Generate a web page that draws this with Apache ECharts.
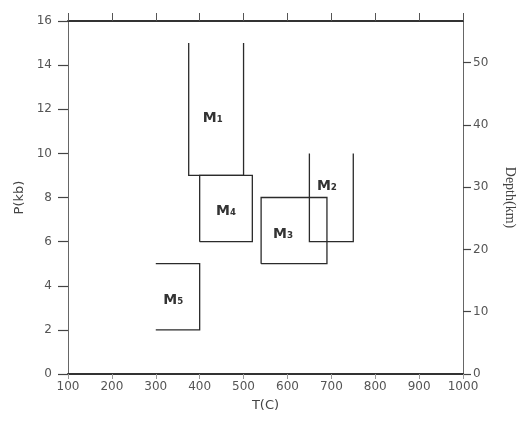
<!DOCTYPE html>
<html>
<head>
<meta charset="utf-8">
<script src="https://cdn.jsdelivr.net/npm/echarts@6/dist/echarts.min.js"></script>
<style>
html,body{margin:0;padding:0;background:#fff;}
#chart{width:519px;height:422px;}
</style>
</head>
<body>
<div id="chart"></div>
<script>
// ---- data (T in °C, P in kb) ----
const boxNames = ['M', 'M', 'M', 'M', 'M'];
const boxSubs  = ['1', '2', '3', '4', '5'];
const tMin = [375, 650, 540, 400, 300];
const tMax = [500, 750, 690, 520, 400];
const pMin = [9, 6, 5, 6, 2];
const pMax = [15, 10, 8, 9, 5];
const openSide = ['top', 'top', 'none', 'none', 'left'];
const labelT = [430, 690, 590, 460, 340];
const labelP = [11.6, 8.5, 6.35, 7.35, 3.35];
const tTicks = [100, 200, 300, 400, 500, 600, 700, 800, 900, 1000];
const pTicks = [0, 2, 4, 6, 8, 10, 12, 14, 16];
const depthTicks = [0, 10, 20, 30, 40, 50];
const depthMax = 56.7; // depth (km) at 16 kb

const subMap = {'1':'\u2081','2':'\u2082','3':'\u2083','4':'\u2084','5':'\u2085'};

const chart = echarts.init(document.getElementById('chart'), null, {renderer: 'canvas'});

const boxData = tMin.map((t, i) => [tMin[i], pMin[i], tMax[i], pMax[i], i, labelT[i], labelP[i]]);

function renderItem(params, api) {
  const i = api.value(4);
  const x0 = api.value(0), y0 = api.value(1), x1 = api.value(2), y1 = api.value(3);
  let pts;
  if (openSide[i] === 'top') {
    pts = [[x0, y1], [x0, y0], [x1, y0], [x1, y1]];
  } else if (openSide[i] === 'left') {
    pts = [[x0, y1], [x1, y1], [x1, y0], [x0, y0]];
  } else {
    pts = [[x0, y0], [x1, y0], [x1, y1], [x0, y1], [x0, y0]];
  }
  const px = pts.map(p => api.coord(p));
  const lp = api.coord([api.value(5), api.value(6)]);
  return {
    type: 'group',
    children: [
      {
        type: 'polyline',
        shape: {points: px},
        style: {stroke: '#2b2b2b', lineWidth: 1.3, fill: null}
      },
      {
        type: 'text',
        x: lp[0], y: lp[1],
        style: {
          text: boxNames[i] + subMap[boxSubs[i]],
          font: 'bold 14px "DejaVu Sans"',
          fill: '#333',
          align: 'center',
          verticalAlign: 'middle'
        }
      }
    ]
  };
}

const tickFont = {fontFamily: 'DejaVu Sans', fontSize: 12, color: '#555'};

const option = {
  animation: false,
  backgroundColor: '#fff',
  grid: {left: 68, right: 56, top: 21, bottom: 48, containLabel: false, outerBoundsMode: 'none'},
  xAxis: [
    {
      type: 'value', position: 'bottom',
      min: tTicks[0], max: tTicks[tTicks.length - 1], interval: 100,
      name: 'T(C)', nameLocation: 'middle', nameGap: 25,
      nameTextStyle: {fontFamily: 'DejaVu Sans', fontSize: 13, color: '#444'},
      axisLine: {show: true, onZero: false, lineStyle: {color: '#333', width: 2}},
      axisTick: {show: true, inside: false, length: 5, lineStyle: {color: '#999'}},
      axisLabel: Object.assign({margin: 7, formatter: v => String(v)}, tickFont),
      splitLine: {show: false}
    },
    {
      type: 'value', position: 'top',
      min: tTicks[0], max: tTicks[tTicks.length - 1], interval: 100,
      axisLine: {show: true, onZero: false, lineStyle: {color: '#333', width: 2}},
      axisTick: {show: true, inside: false, length: 8, lineStyle: {color: '#555'}},
      axisLabel: {show: false},
      splitLine: {show: false}
    }
  ],
  yAxis: [
    {
      type: 'value', position: 'left',
      min: pTicks[0], max: pTicks[pTicks.length - 1], interval: 2,
      name: 'P(kb)', nameLocation: 'middle', nameGap: 42,
      nameTextStyle: {fontFamily: 'DejaVu Sans', fontSize: 13, color: '#444'},
      axisLine: {show: true, onZero: false, lineStyle: {color: '#666', width: 1}},
      axisTick: {show: true, inside: false, length: 10, lineStyle: {color: '#444', width: 1.2}},
      axisLabel: Object.assign({margin: 16}, tickFont),
      splitLine: {show: false}
    },
    {
      type: 'value', position: 'right',
      min: 0, max: depthMax, interval: 10,
      name: 'Depth(km)', nameLocation: 'middle', nameGap: 40, nameRotate: -90,
      nameTextStyle: {fontFamily: 'Liberation Serif', fontSize: 14, color: '#444'},
      axisLine: {show: true, onZero: false, lineStyle: {color: '#666', width: 1}},
      axisTick: {show: true, inside: false, length: 8, lineStyle: {color: '#444', width: 1.2},
        customValues: depthTicks},
      axisLabel: Object.assign({margin: 10, customValues: depthTicks,
        formatter: v => (depthTicks.indexOf(v) >= 0 ? String(v) : '')}, tickFont),
      splitLine: {show: false}
    }
  ],
  series: [
    {
      type: 'custom',
      xAxisIndex: 0, yAxisIndex: 0,
      renderItem: renderItem,
      encode: {x: [0, 2], y: [1, 3]},
      data: boxData,
      clip: false
    }
  ]
};

chart.setOption(option);
</script>
</body>
</html>
